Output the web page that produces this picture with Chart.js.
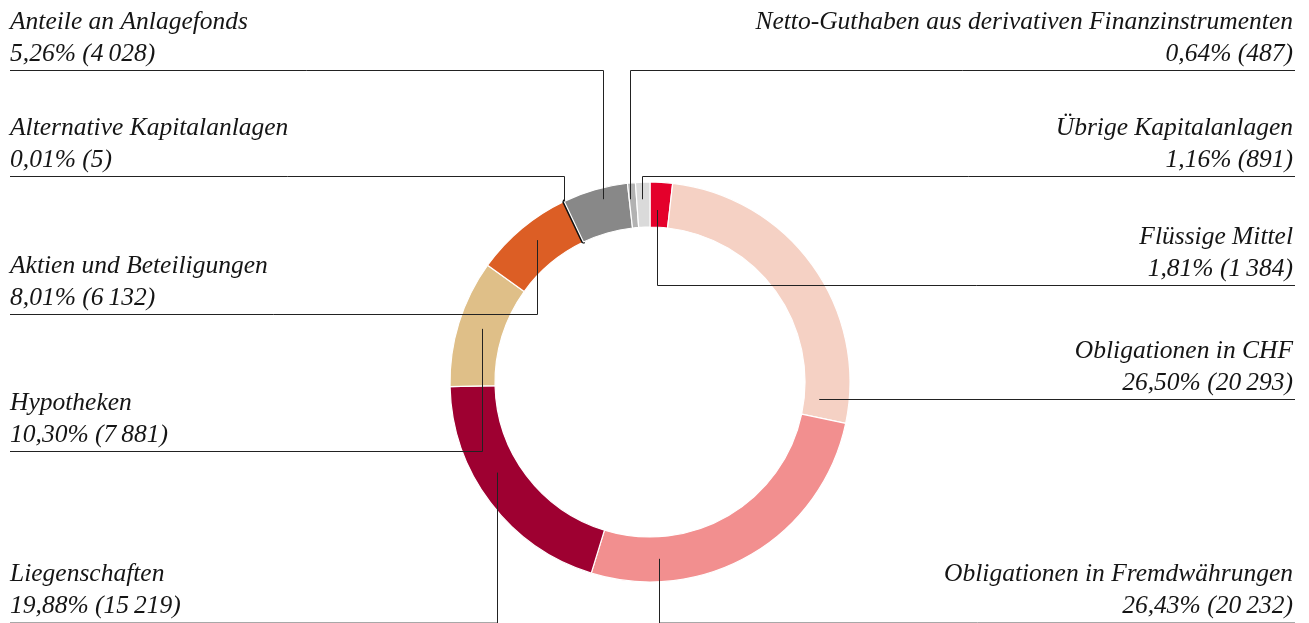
<!DOCTYPE html>
<html>
<head>
<meta charset="utf-8">
<script src="https://cdn.jsdelivr.net/npm/chart.js@4.4.1/dist/chart.umd.min.js"></script>
<style>
  html, body { margin: 0; padding: 0; background: #fff; }
  #wrap { width: 1309px; height: 623px; position: relative; }
</style>
</head>
<body>
<div id="wrap"><canvas id="anlagen"></canvas></div>
<script>
// categories, clockwise from 12 o'clock
const categories = [
    'Flüssige Mittel',
    'Obligationen in CHF',
    'Obligationen in Fremdwährungen',
    'Liegenschaften',
    'Hypotheken',
    'Aktien und Beteiligungen',
    'Alternative Kapitalanlagen',
    'Anteile an Anlagefonds',
    'Netto-Guthaben aus derivativen Finanzinstrumenten',
    'Übrige Kapitalanlagen'
];
const shares = [1.81, 26.50, 26.43, 19.88, 10.30, 8.01, 0.01, 5.26, 0.64, 1.16];
const amounts = [1384, 20293, 20232, 15219, 7881, 6132, 5, 4028, 487, 891];
const colors = ['#e4002b', '#f5d1c4', '#f28f8f', '#9e0031', '#dfbf88', '#dc5e25', '#111111', '#888888', '#b2b2b2', '#dadada'];

// label placement: side, y of the leader line, where the leader meets the ring
// pos = fraction along the slice, rad = fraction across the ring (inner -> outer)
const labelLayout = [
    { side: 'right', lineY: 285, pos: 0.35, rad: 0.38 },
    { side: 'right', lineY: 399, pos: 0.935, rad: 0.33 },
    { side: 'right', lineY: 622, pos: 0.79, rad: 0.49 },
    { side: 'left',  lineY: 622, pos: 0.59, rad: 0.50 },
    { side: 'left',  lineY: 451, pos: 0.51, rad: 0.47 },
    { side: 'left',  lineY: 314, pos: 0.55, rad: 0.58 },
    { side: 'left',  lineY: 176, pos: 0.5,  rad: 1.0 },
    { side: 'left',  lineY: 70,  pos: 0.58, rad: 0.75 },
    { side: 'right', lineY: 70,  pos: 0.15, rad: 0.64 },
    { side: 'right', lineY: 176, pos: 0.41, rad: 0.62 }
];

function fmtShare(v) {
    return v.toFixed(2).replace('.', ',') + '%';
}
function fmtAmount(v) {
    return String(v).replace(/\B(?=(\d{3})+(?!\d))/g, '\u2009');
}

const leaderLabels = {
    id: 'leaderLabels',
    afterDraw(chart) {
        const ctx = chart.ctx;
        const meta = chart.getDatasetMeta(0);
        const leftX = 10, rightX = 1295;
        ctx.save();
        meta.data.forEach(function(arc, i) {
            const lay = labelLayout[i];
            const p = arc.getProps(['x', 'y', 'startAngle', 'endAngle', 'innerRadius', 'outerRadius'], true);
            const a = p.startAngle + (p.endAngle - p.startAngle) * lay.pos;
            const r = p.innerRadius + (p.outerRadius - p.innerRadius) * lay.rad;
            const ax = p.x + Math.cos(a) * r;
            const ay = p.y + Math.sin(a) * r;

            // leader line
            const ly = Math.round(lay.lineY) + 0.5;
            const vx = Math.round(ax) + 0.5;
            ctx.lineWidth = 1;
            ctx.strokeStyle = lay.lineY > 600 ? '#a8a8a8' : '#222222';
            ctx.beginPath();
            ctx.moveTo(lay.side === 'left' ? leftX : rightX, ly);
            ctx.lineTo(vx, ly);
            ctx.stroke();
            ctx.strokeStyle = '#222222';
            ctx.beginPath();
            ctx.moveTo(vx, lay.lineY > 600 ? 623 : ly);
            ctx.lineTo(vx, ay);
            ctx.stroke();

            // text
            ctx.fillStyle = '#151515';
            ctx.font = 'italic 25.5px "Liberation Serif", serif';
            ctx.textBaseline = 'alphabetic';
            ctx.textAlign = lay.side === 'left' ? 'left' : 'right';
            const tx = lay.side === 'left' ? leftX : rightX - 2;
            ctx.fillText(categories[i], tx, lay.lineY - 41);
            ctx.fillText(fmtShare(shares[i]) + ' (' + fmtAmount(amounts[i]) + ')', tx, lay.lineY - 9);
        });
        ctx.restore();
    }
};

const ctx = document.getElementById('anlagen').getContext('2d');
const anlagenChart = new Chart(ctx, {
    type: 'doughnut',
    data: {
        labels: categories,
        datasets: [{
            data: amounts,
            backgroundColor: colors,
            borderColor: colors.map(function(c, i) { return i === 6 ? '#111111' : '#ffffff'; }),
            borderWidth: colors.map(function(c, i) { return i === 6 ? 4 : 1.2; }),
        }]
    },
    options: {
        responsive: true,
        maintainAspectRatio: false,
        animation: false,
        cutout: '77.5%',
        layout: {
            padding: { top: 180, bottom: 39, left: 448, right: 457 }
        },
        plugins: {
            legend: { display: false },
            tooltip: { enabled: false },
        },
    },
    plugins: [leaderLabels]
});
</script>
</body>
</html>
